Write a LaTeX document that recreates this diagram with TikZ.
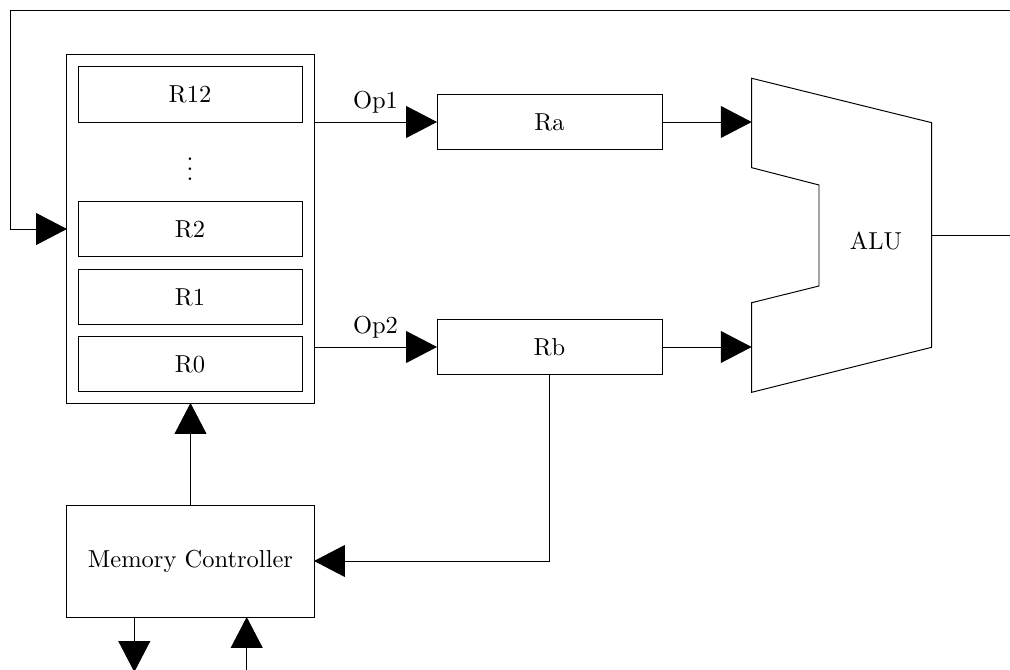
\documentclass[tikz,border=0pt]{standalone}
\usetikzlibrary{arrows.meta}
\begin{document}
\begin{tikzpicture}[x=0.408pt,y=-0.408pt,
  box/.style={draw,inner sep=0pt,outer sep=0pt},
  reg/.style={box,minimum width=91.4pt,minimum height=22.7pt},
  wire/.style={-{Triangle[length=12.6pt,width=13pt]}}]
\useasboundingbox (0,0) rectangle (1010,670);
\clip (0,0) rectangle (1010,670);
% register file
\node[box,minimum width=100.8pt,minimum height=142pt] (rf) at (190.5,229) {};
\node[reg] (r12) at (190,94.5) {R12};
\node (dots) at (190,162) {$\vdots$};
\node[reg] (r2) at (190,229) {R2};
\node[reg] (r1) at (190,297) {R1};
\node[reg] (r0) at (190,364) {R0};
% operand registers
\node[reg,minimum width=91.8pt] (ra) at (549.5,122) {Ra};
\node[reg,minimum width=91.8pt] (rb) at (549.5,347) {Rb};
% memory controller
\node[box,minimum width=100.8pt,minimum height=45.7pt] (mc) at (190.5,561) {Memory Controller};
% ALU
\draw (751.7,78.3) -- (931.7,122.7) -- (931.7,347.3) -- (751.7,392.3) -- (751.7,302.7)
  -- (819,286) -- (819,185) -- (751.7,167.7) -- cycle;
\node (alu) at (876,241) {ALU};
\coordinate (alua) at (751.7,122);
\coordinate (alub) at (751.7,347);
\coordinate (aluo) at (931.7,235);
\coordinate (loopr) at (1060,235);
\coordinate (loopl) at (10,10.5);
\coordinate (mcout) at (134.3,672);
\coordinate (mcin) at (246.7,672);
% connectors
\draw[wire] (rf.east |- ra.west) -- node[above] {Op1} (ra.west);
\draw[wire] (rf.east |- rb.west) -- node[above] {Op2} (rb.west);
\draw[wire] (ra.east) -- (alua);
\draw[wire] (rb.east) -- (alub);
\draw[wire] (aluo) -- (loopr) |- (loopl) |- (rf.west);
\draw[wire] (mc.north) -- (rf.south);
\draw[wire] (rb.south) |- (mc.east);
\draw[wire] (mc.south -| mcout) -- (mcout);
\draw[wire] (mcin) -- (mc.south -| mcin);
\end{tikzpicture}
\end{document}
